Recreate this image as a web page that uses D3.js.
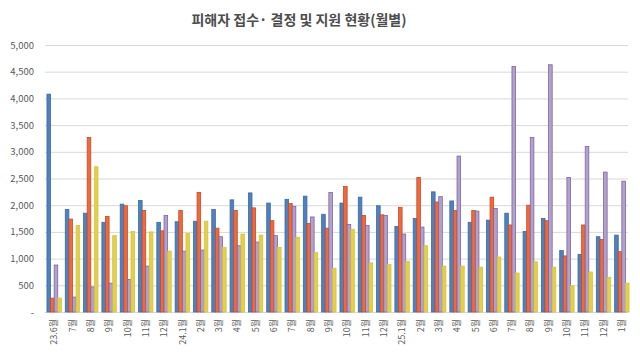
<!DOCTYPE html>
<html><head><meta charset="utf-8">
<script src="https://cdn.jsdelivr.net/npm/d3@7"></script>
<style>
html,body{margin:0;padding:0;background:#fff;}
svg{display:block;font-family:"Noto Sans CJK KR","Noto Sans",sans-serif;}
</style></head>
<body>
<svg id="chart" width="640" height="360"></svg>
<script>
const categories = ["23.6월","7월","8월","9월","10월","11월","12월","24.1월","2월","3월","4월","5월","6월","7월","8월","9월","10월","11월","12월","25.1월","2월","3월","4월","5월","6월","7월","8월","9월","10월","11월","12월","1월"];
const seriesBlue   = [4080,1920,1850,1680,2020,2090,1680,1690,1700,1920,2100,2230,2040,2110,2170,1830,2040,2150,1990,1600,1750,2250,2080,1680,1720,1850,1510,1750,1150,1080,1410,1440];
const seriesOrange = [260,1740,3270,1790,1990,1900,1520,1900,2240,1570,1900,1950,1710,2030,1660,1570,2350,1810,1820,1960,2520,2060,1900,1900,2150,1630,2000,1710,1050,1630,1360,1130];
const seriesPurple = [880,280,470,540,610,860,1810,1140,1160,1410,1240,1310,1430,1980,1780,2240,1640,1620,1810,1460,1590,2160,2920,1890,1940,4600,3270,4630,2520,3100,2620,2450];
const seriesYellow = [260,1620,2720,1430,1510,1500,1140,1470,1700,1210,1460,1440,1210,1400,1110,820,1550,920,890,950,1240,860,860,840,1030,730,940,840,490,750,650,540];
const yTicks = [0,500,1000,1500,2000,2500,3000,3500,4000,4500,5000];
const title = "피해자 접수· 결정 및 지원 현황(월별)";

const series = [
  {values: seriesBlue,   fill:"#4f81bd", stroke:"#3a6aa6"},
  {values: seriesOrange, fill:"#ee6a3c", stroke:"#c9492a"},
  {values: seriesPurple, fill:"#b2a2cb", stroke:"#7d65a0"},
  {values: seriesYellow, fill:"#e2d04a", stroke:"#d6c33c"}
];

const svg = d3.select("#chart");
const mLeft = 45, mRight = 631, mTop = 45, mBottom = 312;

const x = d3.scaleBand().domain(d3.range(categories.length)).range([mLeft, mRight]).padding(0);
const y = d3.scaleLinear().domain([0,5000]).range([mBottom, mTop]);

// gridlines
svg.append("g").selectAll("line").data(yTicks).join("line")
  .attr("x1", mLeft).attr("x2", mRight - 3)
  .attr("y1", d => y(d) + 0.5).attr("y2", d => y(d) + 0.5)
  .attr("stroke", "#d9d9d9").attr("stroke-width", 1);

// y axis labels
const yAxis = d3.axisLeft(y).tickValues(yTicks).tickSize(0).tickPadding(0)
  .tickFormat(d => d === 0 ? "-" : d3.format(",")(d));
const ya = svg.append("g").attr("transform", `translate(${mLeft - 11},0)`).call(yAxis);
ya.select(".domain").remove();
ya.selectAll("text").attr("fill", "#595959").style("font-size", "9.5px")
  .style("font-family", "'Noto Sans CJK KR','Noto Sans',sans-serif");

// bars
const barW = 3.6;
const groupW = barW * series.length;
const g = svg.append("g");
series.forEach((s, si) => {
  g.append("g").selectAll("rect").data(s.values).join("rect")
    .attr("x", (d, i) => x(i) + x.bandwidth()/2 - groupW/2 + si*barW)
    .attr("y", d => y(d))
    .attr("width", barW)
    .attr("height", d => mBottom - y(d))
    .attr("fill", s.fill)
    .attr("stroke", s.stroke)
    .attr("stroke-width", 0.8);
});

// x labels
const xAxis = d3.axisBottom(x).tickSize(0).tickPadding(0).tickFormat(i => categories[i]);
const xa = svg.append("g").attr("transform", `translate(0,${mBottom + 7})`).call(xAxis);
xa.select(".domain").remove();
xa.selectAll("text")
  .attr("transform", "rotate(-90)")
  .attr("text-anchor", "end")
  .attr("x", 0).attr("y", 0).attr("dy", "0.35em")
  .attr("fill", "#595959").style("font-size", "9px")
  .style("font-family", "'Noto Sans CJK KR','Noto Sans',sans-serif");

// title
svg.append("text").attr("x", 299).attr("y", 25).attr("text-anchor", "middle")
  .attr("fill", "#4d4d4d").style("font-size", "14px").style("font-weight", "bold")
  .text(title);
</script>
</body></html>
